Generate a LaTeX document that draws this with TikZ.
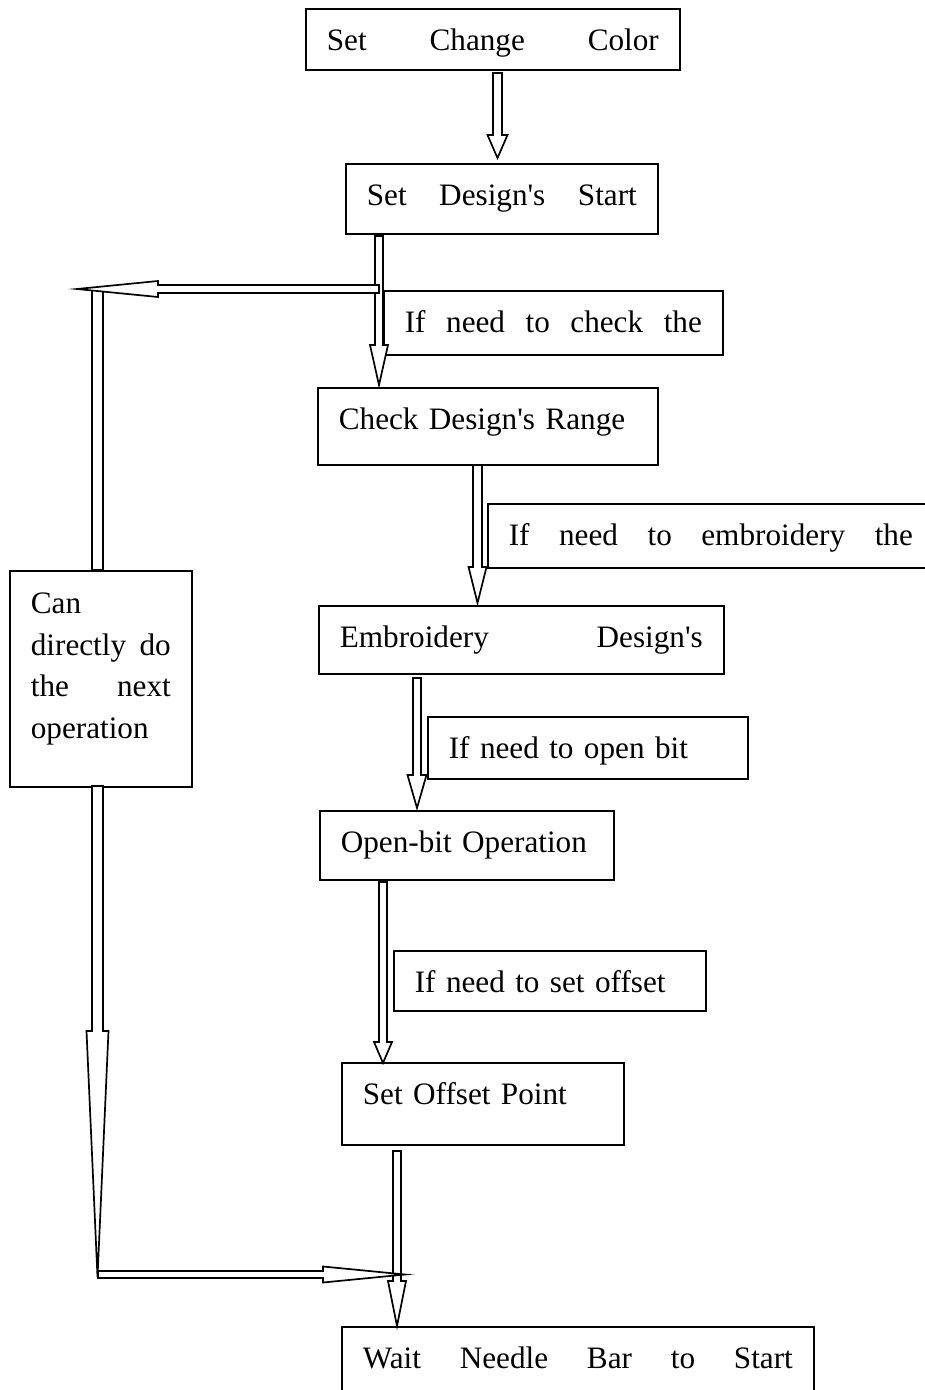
\documentclass[tikz,border=0pt]{standalone}
\usepackage{fontspec}
\setmainfont{Liberation Serif}
\newcommand\vblk[6]{% xc, shaft half width, ytop, yhead, head half width, ytip
  \draw[blk] ({#1-#2},#3) -- ({#1+#2},#3) -- ({#1+#2},#4) -- ({#1+#5},#4) -- (#1,#6)
    -- ({#1-#5},#4) -- ({#1-#2},#4) -- cycle;}
\newcommand\hblk[6]{% yc, shaft half width, xstart, xhead, head half width, xtip
  \draw[blk] (#3,{#1-#2}) -- (#4,{#1-#2}) -- (#4,{#1-#5}) -- (#6,#1)
    -- (#4,{#1+#5}) -- (#4,{#1+#2}) -- (#3,{#1+#2}) -- cycle;}
\begin{document}
\begin{tikzpicture}[x=1pt,y=-1pt,
  box/.style={draw, line width=1.7pt, anchor=north west, inner xsep=21pt, inner ysep=0pt,
    align=left, text height=42pt, font=\fontsize{31.2pt}{41.5pt}\selectfont},
  blk/.style={draw, fill=white, line width=1.7pt, line join=miter, miter limit=20}]
\useasboundingbox (0,0) rectangle (925,1390);

% main boxes
\node[box, text width=332pt, text depth=19pt] (A) at (305,8) {Set\hfill Change\hfill Color};
\node[box, text width=270pt, text depth=28pt] (B) at (345,163) {Set\hfill Design\textquotesingle s\hfill Start};
\node[box, text width=298pt, text depth=35pt] (C) at (317,387) {Check Design\textquotesingle s Range};
\node[box, text width=363pt, text depth=26pt] (D) at (318,605) {Embroidery\hfill Design\textquotesingle s};
\node[box, text width=252pt, text depth=27pt] (E) at (319,810) {Open-bit Operation};
\node[box, text width=240pt, text depth=40pt] (F) at (341,1062) {Set Offset Point};
\node[box, text width=430pt, text depth=80pt] (G) at (341,1326) {Wait\hfill Needle\hfill Bar\hfill to\hfill Start};
\node[box, text width=140pt, text height=43pt, text depth=173pt] (H) at (9,570)
  {Can\\ directly\hfill do\\ the\hfill next\\ operation};

% condition labels
\node[box, text width=297pt, text depth=22pt] (L1) at (383,290) {If\hfill need\hfill to\hfill check\hfill the};
\node[box, text width=404pt, text depth=22pt] (L2) at (487,503) {If\hfill need\hfill to\hfill embroidery\hfill the};
\node[box, text width=278pt, text depth=20pt] (L3) at (427,716) {If need to open bit};
\node[box, text width=270pt, text depth=18pt] (L4) at (393,950) {If need to set offset};

% block arrows
\vblk{497.5}{4.5}{73}{135}{10}{158}
\vblk{379}{4}{236}{345}{9}{385}
\vblk{477.5}{4.5}{465}{567}{9}{603}
\vblk{417}{4}{678}{775}{9.5}{808}
\vblk{383}{4}{882}{1042}{9}{1063}
\vblk{397}{4}{1151}{1281}{9}{1326}

% feedback path on the left
\draw[blk] (92,290) rectangle (103,570);
\hblk{289}{4}{379}{158}{8}{77}
\vblk{97.5}{5.5}{786}{1031}{11}{1277}
\hblk{1274.5}{3.5}{98}{323}{8}{405}
\end{tikzpicture}
\end{document}
